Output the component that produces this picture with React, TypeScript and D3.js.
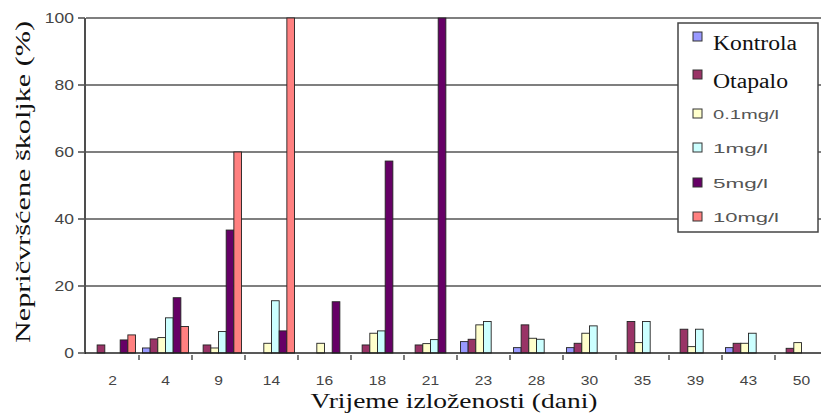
import * as d3 from "d3";

// days of exposure
const categories = ["2", "4", "9", "14", "16", "18", "21", "23", "28", "30", "35", "39", "43", "50"];

// % of unattached mussels per series
const kontrola = [0, 1.5, 0, 0, 0, 0, 0, 3.4, 1.6, 1.6, 0, 0, 1.6, 0];
const otapalo = [2.4, 4.2, 2.4, 0, 0, 2.4, 2.4, 4.1, 8.4, 2.9, 9.4, 7.1, 2.9, 1.4];
const mg01 = [0, 4.6, 1.5, 2.9, 2.9, 5.9, 2.8, 8.4, 4.4, 5.9, 3.1, 1.9, 2.9, 3.1];
const mg1 = [0, 10.5, 6.4, 15.6, 0, 6.6, 4.0, 9.4, 4.1, 8.1, 9.4, 7.1, 5.9, 0];
const mg5 = [3.9, 16.5, 36.7, 6.6, 15.3, 57.3, 100, 0, 0, 0, 0, 0, 0, 0];
const mg10 = [5.4, 7.9, 60, 100, 0, 0, 0, 0, 0, 0, 0, 0, 0, 0];

const seriesNames = ["Kontrola", "Otapalo", "0.1mg/l", "1mg/l", "5mg/l", "10mg/l"];
const seriesValues = [kontrola, otapalo, mg01, mg1, mg5, mg10];
const seriesColors = ["#9999ff", "#993366", "#ffffcc", "#ccffff", "#660066", "#ff8080"];
const legendWidths = [84, 75, 66, 55, 55, 66];

const yTicks = [0, 20, 40, 60, 80, 100];

export default function App() {
    const width = 821;
    const height = 414;
    const left = 86;
    const right = 828; // chart runs a bit past the picture edge
    const top = 18;
    const bottom = 353;

    const x = d3.scaleBand(categories, [left, right]);
    const inner = d3.scaleBand(d3.range(seriesNames.length), [0, x.bandwidth()]).paddingOuter(0.45);
    const y = d3.scaleLinear([0, 100], [bottom, top]);

    const legendX = 678;
    const legendRows = [40, 78, 114, 148, 183, 217];

    return (
        <svg width={width} height={height} style={{ position: "absolute", left: 0, top: 0 }}>
            {/* grid lines */}
            <g stroke="#555" strokeWidth={1.6}>
                {yTicks.filter((t) => t > 0).map((t) => (
                    <line key={t} x1={left} x2={width} y1={y(t)} y2={y(t)} />
                ))}
            </g>

            {/* bars */}
            <g stroke="#222" strokeWidth={0.9}>
                {categories.map((c, i) => (
                    <g key={c} transform={`translate(${x(c)},0)`}>
                        {seriesValues.map((vals, s) =>
                            vals[i] > 0 ? (
                                <rect
                                    key={s}
                                    x={inner(s)}
                                    y={y(vals[i])}
                                    width={inner.bandwidth()}
                                    height={y(0) - y(vals[i])}
                                    fill={seriesColors[s]}
                                />
                            ) : null
                        )}
                    </g>
                ))}
            </g>

            {/* y axis */}
            <line x1={left - 1} x2={left - 1} y1={top} y2={bottom + 1} stroke="#222" strokeWidth={1.6} />
            {yTicks.map((t) => (
                <line key={t} x1={left - 8} x2={left - 1} y1={y(t)} y2={y(t)} stroke="#555" strokeWidth={1.6} />
            ))}
            {yTicks.map((t) => (
                <text
                    key={t}
                    transform={`translate(${left - 12},${y(t) + 5}) scale(1.25,1)`}
                    textAnchor="end"
                    fontFamily="Liberation Sans"
                    fontSize={14}
                    fill="#444"
                >
                    {t}
                </text>
            ))}

            {/* x axis */}
            <line x1={left - 1} x2={width} y1={bottom} y2={bottom} stroke="#222" strokeWidth={1.6} />
            {categories.slice(1).map((c) => (
                <line key={c} x1={x(c)} x2={x(c)} y1={bottom + 2} y2={bottom + 7} stroke="#444" strokeWidth={1.4} />
            ))}
            {categories.map((c) => (
                <text
                    key={c}
                    transform={`translate(${(x(c) ?? 0) + x.bandwidth() / 2},${bottom + 32}) scale(1.2,1)`}
                    textAnchor="middle"
                    fontFamily="Liberation Sans"
                    fontSize={13}
                    fill="#444"
                >
                    {c}
                </text>
            ))}

            {/* axis titles */}
            <text
                x={454}
                y={408}
                textAnchor="middle"
                fontFamily="Liberation Serif"
                fontSize={22}
                fill="#111"
                textLength={287}
                lengthAdjust="spacingAndGlyphs"
            >
                Vrijeme izloženosti (dani)
            </text>
            <text
                transform="translate(30,182) rotate(-90)"
                textAnchor="middle"
                fontFamily="Liberation Serif"
                fontSize={22}
                fill="#111"
                textLength={322}
                lengthAdjust="spacingAndGlyphs"
            >
                Nepričvršćene školjke (%)
            </text>

            {/* legend */}
            <rect x={legendX} y={23} width={140} height={209} fill="white" stroke="#444" strokeWidth={1.5} />
            {seriesNames.map((name, s) => {
                const cy = legendRows[s];
                const isSerif = s < 2;
                return (
                    <g key={name}>
                        <rect
                            x={legendX + 15}
                            y={isSerif ? cy - 8 : cy - 5}
                            width={9}
                            height={9}
                            fill={seriesColors[s]}
                            stroke="#333"
                            strokeWidth={1}
                        />
                        <text
                            x={legendX + 35}
                            y={isSerif ? cy + 10 : cy + 5}
                            fontFamily={isSerif ? "Liberation Serif" : "Liberation Sans"}
                            fontSize={isSerif ? 20 : 13}
                            fill={isSerif ? "#111" : "#555"}
                            textLength={legendWidths[s]}
                            lengthAdjust="spacingAndGlyphs"
                        >
                            {name}
                        </text>
                    </g>
                );
            })}
        </svg>
    );
}
